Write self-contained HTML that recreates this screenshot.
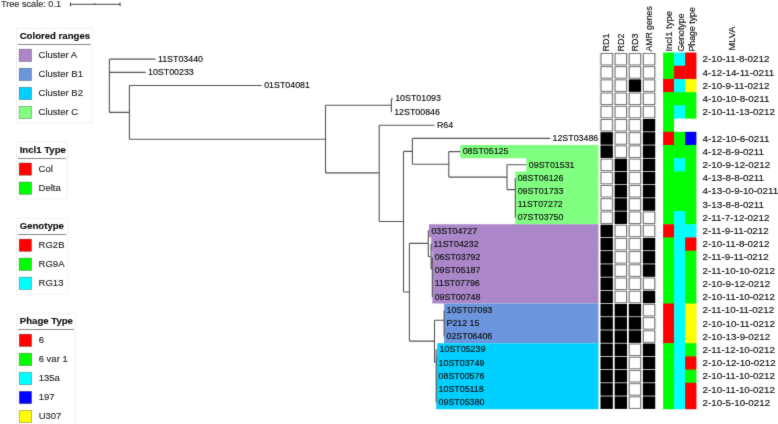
<!DOCTYPE html>
<html><head><meta charset="utf-8"><style>
html,body{margin:0;padding:0;background:#fff;width:778px;height:424px;overflow:hidden}
svg{display:block}
text{font-family:"Liberation Sans", sans-serif;fill:#111;stroke:#111;stroke-width:0.15px}
.lb{font-size:8.85px}
.ml{font-size:9.8px}
.hd{font-size:9.2px}
.ts{font-size:9.15px;fill:#3a3a3a}
.lt{font-size:9.6px;font-weight:bold}
.li{font-size:9.5px;fill:#333}
</style></head><body>
<svg width="778" height="424" viewBox="0 0 778 424">
<defs><filter id="sf" x="0" y="0" width="778" height="424" filterUnits="userSpaceOnUse" color-interpolation-filters="sRGB"><feConvolveMatrix order="3" kernelMatrix="1 2 1 2 28 2 1 2 1" divisor="40" edgeMode="duplicate"/></filter></defs>
<g filter="url(#sf)"><rect x="0" y="0" width="778" height="424" fill="#fff"/>
<path d="M598.40 145.00 L460.30 145.00 L460.30 158.22 L526.40 158.22 L526.40 171.43 L515.30 171.43 L515.30 184.64 L515.30 184.64 L515.30 197.84 L515.30 197.84 L515.30 211.06 L515.30 211.06 L515.30 224.27 L598.40 224.27Z" fill="#80ff80"/>
<path d="M598.40 224.27 L429.00 224.27 L429.00 237.47 L431.10 237.47 L431.10 250.69 L432.30 250.69 L432.30 263.89 L432.30 263.89 L432.30 277.11 L432.30 277.11 L432.30 290.32 L432.30 290.32 L432.30 303.52 L598.40 303.52Z" fill="#ab87c9"/>
<path d="M598.40 303.52 L444.10 303.52 L444.10 316.74 L444.10 316.74 L444.10 329.95 L444.10 329.95 L444.10 343.15 L598.40 343.15Z" fill="#6b95dc"/>
<path d="M598.40 343.15 L437.20 343.15 L437.20 356.37 L436.20 356.37 L436.20 369.58 L436.20 369.58 L436.20 382.78 L436.20 382.78 L436.20 396.00 L436.20 396.00 L436.20 409.21 L598.40 409.21Z" fill="#00cfff"/>
<path d="M109.40 59.14V112.40M109.40 59.14H155.50M109.40 72.35H145.60M109.40 112.40H129.40M129.40 85.56V139.30M129.40 85.56H261.80M129.40 139.30H325.50M325.50 105.30V172.90M325.50 105.30H391.40M391.40 98.77V111.98M391.40 98.77H392.80M391.40 111.98H391.80M325.50 172.90H379.20M379.20 125.19V221.50M379.20 125.19H434.50M379.20 221.50H403.50M403.50 151.40V292.00M403.50 151.40H412.40M412.40 138.40V164.30M412.40 138.40H550.10M412.40 164.30H448.80M448.80 151.61V177.10M448.80 151.61H460.30M448.80 177.10H507.00M507.00 164.82V189.60M507.00 164.82H526.40M507.00 189.60H515.30M515.30 178.03V217.66M403.50 292.00H409.40M409.40 243.40V341.10M409.40 243.40H428.30M428.30 230.87V256.50M428.30 230.87H429.00M428.30 256.50H431.10M431.10 244.08V268.90M431.10 268.90H432.30M432.30 257.29V296.92M409.40 341.10H434.50M434.50 320.20V362.30M434.50 320.20H444.10M444.10 310.13V336.55M434.50 362.30H436.20M436.20 349.76V402.60M436.20 349.76H437.20" stroke="#555555" stroke-width="1.1" fill="none"/>
<text transform="translate(157.90,61.84) scale(1,1)" class="lb">11ST03440</text>
<text transform="translate(148.00,75.05) scale(1,1)" class="lb">10ST00233</text>
<text transform="translate(264.20,88.26) scale(1,1)" class="lb">01ST04081</text>
<text transform="translate(395.20,101.47) scale(1,1)" class="lb">10ST01093</text>
<text transform="translate(394.20,114.68) scale(1,1)" class="lb">12ST00846</text>
<text transform="translate(436.90,127.89) scale(1,1)" class="lb">R64</text>
<text transform="translate(552.50,141.10) scale(1,1)" class="lb">12ST03486</text>
<text transform="translate(462.70,154.31) scale(1,1)" class="lb">08ST05125</text>
<text transform="translate(528.80,167.52) scale(1,1)" class="lb">09ST01531</text>
<text transform="translate(517.70,180.73) scale(1,1)" class="lb">08ST06126</text>
<text transform="translate(517.70,193.94) scale(1,1)" class="lb">09ST01733</text>
<text transform="translate(517.70,207.15) scale(1,1)" class="lb">11ST07272</text>
<text transform="translate(517.70,220.36) scale(1,1)" class="lb">07ST03750</text>
<text transform="translate(431.40,233.57) scale(1,1)" class="lb">03ST04727</text>
<text transform="translate(433.50,246.78) scale(1,1)" class="lb">11ST04232</text>
<text transform="translate(434.70,259.99) scale(1,1)" class="lb">06ST03792</text>
<text transform="translate(434.70,273.20) scale(1,1)" class="lb">09ST05187</text>
<text transform="translate(434.70,286.41) scale(1,1)" class="lb">11ST07796</text>
<text transform="translate(434.70,299.62) scale(1,1)" class="lb">09ST00748</text>
<text transform="translate(446.50,312.83) scale(1,1)" class="lb">10ST07093</text>
<text transform="translate(446.50,326.04) scale(1,1)" class="lb">P212 15</text>
<text transform="translate(446.50,339.25) scale(1,1)" class="lb">02ST06406</text>
<text transform="translate(439.60,352.46) scale(1,1)" class="lb">10ST05239</text>
<text transform="translate(438.60,365.67) scale(1,1)" class="lb">10ST03749</text>
<text transform="translate(438.60,378.88) scale(1,1)" class="lb">08ST00576</text>
<text transform="translate(438.60,392.09) scale(1,1)" class="lb">10ST05118</text>
<text transform="translate(438.60,405.30) scale(1,1)" class="lb">09ST05380</text>
<rect x="599.50" y="53.23" width="14.35" height="11.90" fill="#e0e0e0"/>
<rect x="613.63" y="53.23" width="14.35" height="11.90" fill="#e0e0e0"/>
<rect x="627.76" y="53.23" width="14.35" height="11.90" fill="#e0e0e0"/>
<rect x="641.89" y="53.23" width="14.35" height="11.90" fill="#e0e0e0"/>
<rect x="599.50" y="66.45" width="14.35" height="11.90" fill="#e0e0e0"/>
<rect x="613.63" y="66.45" width="14.35" height="11.90" fill="#e0e0e0"/>
<rect x="627.76" y="66.45" width="14.35" height="11.90" fill="#e0e0e0"/>
<rect x="641.89" y="66.45" width="14.35" height="11.90" fill="#e0e0e0"/>
<rect x="599.50" y="79.66" width="14.35" height="11.90" fill="#e0e0e0"/>
<rect x="613.63" y="79.66" width="14.35" height="11.90" fill="#e0e0e0"/>
<rect x="641.89" y="79.66" width="14.35" height="11.90" fill="#e0e0e0"/>
<rect x="599.50" y="92.86" width="14.35" height="11.90" fill="#e0e0e0"/>
<rect x="613.63" y="92.86" width="14.35" height="11.90" fill="#e0e0e0"/>
<rect x="627.76" y="92.86" width="14.35" height="11.90" fill="#e0e0e0"/>
<rect x="641.89" y="92.86" width="14.35" height="11.90" fill="#e0e0e0"/>
<rect x="599.50" y="106.08" width="14.35" height="11.90" fill="#e0e0e0"/>
<rect x="613.63" y="106.08" width="14.35" height="11.90" fill="#e0e0e0"/>
<rect x="627.76" y="106.08" width="14.35" height="11.90" fill="#e0e0e0"/>
<rect x="641.89" y="106.08" width="14.35" height="11.90" fill="#e0e0e0"/>
<rect x="599.50" y="119.29" width="14.35" height="11.90" fill="#e0e0e0"/>
<rect x="613.63" y="119.29" width="14.35" height="11.90" fill="#e0e0e0"/>
<rect x="627.76" y="119.29" width="14.35" height="11.90" fill="#e0e0e0"/>
<rect x="613.63" y="132.50" width="14.35" height="11.90" fill="#e0e0e0"/>
<rect x="627.76" y="132.50" width="14.35" height="11.90" fill="#e0e0e0"/>
<rect x="613.63" y="145.71" width="14.35" height="11.90" fill="#e0e0e0"/>
<rect x="627.76" y="145.71" width="14.35" height="11.90" fill="#e0e0e0"/>
<rect x="599.50" y="158.92" width="14.35" height="11.90" fill="#e0e0e0"/>
<rect x="627.76" y="158.92" width="14.35" height="11.90" fill="#e0e0e0"/>
<rect x="599.50" y="172.13" width="14.35" height="11.90" fill="#e0e0e0"/>
<rect x="627.76" y="172.13" width="14.35" height="11.90" fill="#e0e0e0"/>
<rect x="599.50" y="185.34" width="14.35" height="11.90" fill="#e0e0e0"/>
<rect x="627.76" y="185.34" width="14.35" height="11.90" fill="#e0e0e0"/>
<rect x="599.50" y="198.55" width="14.35" height="11.90" fill="#e0e0e0"/>
<rect x="627.76" y="198.55" width="14.35" height="11.90" fill="#e0e0e0"/>
<rect x="599.50" y="211.76" width="14.35" height="11.90" fill="#e0e0e0"/>
<rect x="627.76" y="211.76" width="14.35" height="11.90" fill="#e0e0e0"/>
<rect x="641.89" y="211.76" width="14.35" height="11.90" fill="#e0e0e0"/>
<rect x="613.63" y="224.97" width="14.35" height="11.90" fill="#e0e0e0"/>
<rect x="627.76" y="224.97" width="14.35" height="11.90" fill="#e0e0e0"/>
<rect x="641.89" y="224.97" width="14.35" height="11.90" fill="#e0e0e0"/>
<rect x="613.63" y="238.18" width="14.35" height="11.90" fill="#e0e0e0"/>
<rect x="627.76" y="238.18" width="14.35" height="11.90" fill="#e0e0e0"/>
<rect x="613.63" y="251.39" width="14.35" height="11.90" fill="#e0e0e0"/>
<rect x="627.76" y="251.39" width="14.35" height="11.90" fill="#e0e0e0"/>
<rect x="613.63" y="264.59" width="14.35" height="11.90" fill="#e0e0e0"/>
<rect x="627.76" y="264.59" width="14.35" height="11.90" fill="#e0e0e0"/>
<rect x="613.63" y="277.81" width="14.35" height="11.90" fill="#e0e0e0"/>
<rect x="627.76" y="277.81" width="14.35" height="11.90" fill="#e0e0e0"/>
<rect x="641.89" y="277.81" width="14.35" height="11.90" fill="#e0e0e0"/>
<rect x="613.63" y="291.02" width="14.35" height="11.90" fill="#e0e0e0"/>
<rect x="627.76" y="291.02" width="14.35" height="11.90" fill="#e0e0e0"/>
<rect x="641.89" y="304.22" width="14.35" height="11.90" fill="#e0e0e0"/>
<rect x="641.89" y="317.44" width="14.35" height="11.90" fill="#e0e0e0"/>
<rect x="641.89" y="330.65" width="14.35" height="11.90" fill="#e0e0e0"/>
<rect x="627.76" y="343.85" width="14.35" height="11.90" fill="#e0e0e0"/>
<rect x="627.76" y="357.06" width="14.35" height="11.90" fill="#e0e0e0"/>
<rect x="627.76" y="370.28" width="14.35" height="11.90" fill="#e0e0e0"/>
<rect x="627.76" y="383.48" width="14.35" height="11.90" fill="#e0e0e0"/>
<rect x="627.76" y="396.69" width="14.35" height="11.90" fill="#e0e0e0"/>
<rect x="601.00" y="53.43" width="11.35" height="11.50" fill="#fff" stroke="#767676" stroke-width="1.0"/>
<rect x="615.13" y="53.43" width="11.35" height="11.50" fill="#fff" stroke="#767676" stroke-width="1.0"/>
<rect x="629.26" y="53.43" width="11.35" height="11.50" fill="#fff" stroke="#767676" stroke-width="1.0"/>
<rect x="643.39" y="53.43" width="11.35" height="11.50" fill="#fff" stroke="#767676" stroke-width="1.0"/>
<rect x="601.00" y="66.65" width="11.35" height="11.50" fill="#fff" stroke="#767676" stroke-width="1.0"/>
<rect x="615.13" y="66.65" width="11.35" height="11.50" fill="#fff" stroke="#767676" stroke-width="1.0"/>
<rect x="629.26" y="66.65" width="11.35" height="11.50" fill="#fff" stroke="#767676" stroke-width="1.0"/>
<rect x="643.39" y="66.65" width="11.35" height="11.50" fill="#fff" stroke="#767676" stroke-width="1.0"/>
<rect x="601.00" y="79.86" width="11.35" height="11.50" fill="#fff" stroke="#767676" stroke-width="1.0"/>
<rect x="615.13" y="79.86" width="11.35" height="11.50" fill="#fff" stroke="#767676" stroke-width="1.0"/>
<rect x="628.76" y="79.36" width="12.35" height="12.50" fill="#000"/>
<rect x="643.39" y="79.86" width="11.35" height="11.50" fill="#fff" stroke="#767676" stroke-width="1.0"/>
<rect x="601.00" y="93.06" width="11.35" height="11.50" fill="#fff" stroke="#767676" stroke-width="1.0"/>
<rect x="615.13" y="93.06" width="11.35" height="11.50" fill="#fff" stroke="#767676" stroke-width="1.0"/>
<rect x="629.26" y="93.06" width="11.35" height="11.50" fill="#fff" stroke="#767676" stroke-width="1.0"/>
<rect x="643.39" y="93.06" width="11.35" height="11.50" fill="#fff" stroke="#767676" stroke-width="1.0"/>
<rect x="601.00" y="106.28" width="11.35" height="11.50" fill="#fff" stroke="#767676" stroke-width="1.0"/>
<rect x="615.13" y="106.28" width="11.35" height="11.50" fill="#fff" stroke="#767676" stroke-width="1.0"/>
<rect x="629.26" y="106.28" width="11.35" height="11.50" fill="#fff" stroke="#767676" stroke-width="1.0"/>
<rect x="643.39" y="106.28" width="11.35" height="11.50" fill="#fff" stroke="#767676" stroke-width="1.0"/>
<rect x="601.00" y="119.49" width="11.35" height="11.50" fill="#fff" stroke="#767676" stroke-width="1.0"/>
<rect x="615.13" y="119.49" width="11.35" height="11.50" fill="#fff" stroke="#767676" stroke-width="1.0"/>
<rect x="629.26" y="119.49" width="11.35" height="11.50" fill="#fff" stroke="#767676" stroke-width="1.0"/>
<rect x="642.89" y="118.99" width="12.35" height="12.50" fill="#000"/>
<rect x="600.50" y="132.20" width="12.35" height="12.50" fill="#000"/>
<rect x="615.13" y="132.70" width="11.35" height="11.50" fill="#fff" stroke="#767676" stroke-width="1.0"/>
<rect x="629.26" y="132.70" width="11.35" height="11.50" fill="#fff" stroke="#767676" stroke-width="1.0"/>
<rect x="642.89" y="132.20" width="12.35" height="12.50" fill="#000"/>
<rect x="600.50" y="145.41" width="12.35" height="12.50" fill="#000"/>
<rect x="615.13" y="145.91" width="11.35" height="11.50" fill="#fff" stroke="#767676" stroke-width="1.0"/>
<rect x="629.26" y="145.91" width="11.35" height="11.50" fill="#fff" stroke="#767676" stroke-width="1.0"/>
<rect x="642.89" y="145.41" width="12.35" height="12.50" fill="#000"/>
<rect x="601.00" y="159.12" width="11.35" height="11.50" fill="#fff" stroke="#767676" stroke-width="1.0"/>
<rect x="614.63" y="158.62" width="12.35" height="12.50" fill="#000"/>
<rect x="629.26" y="159.12" width="11.35" height="11.50" fill="#fff" stroke="#767676" stroke-width="1.0"/>
<rect x="642.89" y="158.62" width="12.35" height="12.50" fill="#000"/>
<rect x="601.00" y="172.33" width="11.35" height="11.50" fill="#fff" stroke="#767676" stroke-width="1.0"/>
<rect x="614.63" y="171.83" width="12.35" height="12.50" fill="#000"/>
<rect x="629.26" y="172.33" width="11.35" height="11.50" fill="#fff" stroke="#767676" stroke-width="1.0"/>
<rect x="642.89" y="171.83" width="12.35" height="12.50" fill="#000"/>
<rect x="601.00" y="185.54" width="11.35" height="11.50" fill="#fff" stroke="#767676" stroke-width="1.0"/>
<rect x="614.63" y="185.04" width="12.35" height="12.50" fill="#000"/>
<rect x="629.26" y="185.54" width="11.35" height="11.50" fill="#fff" stroke="#767676" stroke-width="1.0"/>
<rect x="642.89" y="185.04" width="12.35" height="12.50" fill="#000"/>
<rect x="601.00" y="198.75" width="11.35" height="11.50" fill="#fff" stroke="#767676" stroke-width="1.0"/>
<rect x="614.63" y="198.25" width="12.35" height="12.50" fill="#000"/>
<rect x="629.26" y="198.75" width="11.35" height="11.50" fill="#fff" stroke="#767676" stroke-width="1.0"/>
<rect x="642.89" y="198.25" width="12.35" height="12.50" fill="#000"/>
<rect x="601.00" y="211.96" width="11.35" height="11.50" fill="#fff" stroke="#767676" stroke-width="1.0"/>
<rect x="614.63" y="211.46" width="12.35" height="12.50" fill="#000"/>
<rect x="629.26" y="211.96" width="11.35" height="11.50" fill="#fff" stroke="#767676" stroke-width="1.0"/>
<rect x="643.39" y="211.96" width="11.35" height="11.50" fill="#fff" stroke="#767676" stroke-width="1.0"/>
<rect x="600.50" y="224.67" width="12.35" height="12.50" fill="#000"/>
<rect x="615.13" y="225.17" width="11.35" height="11.50" fill="#fff" stroke="#767676" stroke-width="1.0"/>
<rect x="629.26" y="225.17" width="11.35" height="11.50" fill="#fff" stroke="#767676" stroke-width="1.0"/>
<rect x="643.39" y="225.17" width="11.35" height="11.50" fill="#fff" stroke="#767676" stroke-width="1.0"/>
<rect x="600.50" y="237.88" width="12.35" height="12.50" fill="#000"/>
<rect x="615.13" y="238.38" width="11.35" height="11.50" fill="#fff" stroke="#767676" stroke-width="1.0"/>
<rect x="629.26" y="238.38" width="11.35" height="11.50" fill="#fff" stroke="#767676" stroke-width="1.0"/>
<rect x="642.89" y="237.88" width="12.35" height="12.50" fill="#000"/>
<rect x="600.50" y="251.09" width="12.35" height="12.50" fill="#000"/>
<rect x="615.13" y="251.59" width="11.35" height="11.50" fill="#fff" stroke="#767676" stroke-width="1.0"/>
<rect x="629.26" y="251.59" width="11.35" height="11.50" fill="#fff" stroke="#767676" stroke-width="1.0"/>
<rect x="642.89" y="251.09" width="12.35" height="12.50" fill="#000"/>
<rect x="600.50" y="264.29" width="12.35" height="12.50" fill="#000"/>
<rect x="615.13" y="264.79" width="11.35" height="11.50" fill="#fff" stroke="#767676" stroke-width="1.0"/>
<rect x="629.26" y="264.79" width="11.35" height="11.50" fill="#fff" stroke="#767676" stroke-width="1.0"/>
<rect x="642.89" y="264.29" width="12.35" height="12.50" fill="#000"/>
<rect x="600.50" y="277.50" width="12.35" height="12.50" fill="#000"/>
<rect x="615.13" y="278.00" width="11.35" height="11.50" fill="#fff" stroke="#767676" stroke-width="1.0"/>
<rect x="629.26" y="278.00" width="11.35" height="11.50" fill="#fff" stroke="#767676" stroke-width="1.0"/>
<rect x="643.39" y="278.00" width="11.35" height="11.50" fill="#fff" stroke="#767676" stroke-width="1.0"/>
<rect x="600.50" y="290.72" width="12.35" height="12.50" fill="#000"/>
<rect x="615.13" y="291.22" width="11.35" height="11.50" fill="#fff" stroke="#767676" stroke-width="1.0"/>
<rect x="629.26" y="291.22" width="11.35" height="11.50" fill="#fff" stroke="#767676" stroke-width="1.0"/>
<rect x="642.89" y="290.72" width="12.35" height="12.50" fill="#000"/>
<rect x="600.50" y="303.92" width="12.35" height="12.50" fill="#000"/>
<rect x="614.63" y="303.92" width="12.35" height="12.50" fill="#000"/>
<rect x="628.76" y="303.92" width="12.35" height="12.50" fill="#000"/>
<rect x="643.39" y="304.42" width="11.35" height="11.50" fill="#fff" stroke="#767676" stroke-width="1.0"/>
<rect x="600.50" y="317.13" width="12.35" height="12.50" fill="#000"/>
<rect x="614.63" y="317.13" width="12.35" height="12.50" fill="#000"/>
<rect x="628.76" y="317.13" width="12.35" height="12.50" fill="#000"/>
<rect x="643.39" y="317.63" width="11.35" height="11.50" fill="#fff" stroke="#767676" stroke-width="1.0"/>
<rect x="600.50" y="330.35" width="12.35" height="12.50" fill="#000"/>
<rect x="614.63" y="330.35" width="12.35" height="12.50" fill="#000"/>
<rect x="628.76" y="330.35" width="12.35" height="12.50" fill="#000"/>
<rect x="643.39" y="330.85" width="11.35" height="11.50" fill="#fff" stroke="#767676" stroke-width="1.0"/>
<rect x="600.50" y="343.55" width="12.35" height="12.50" fill="#000"/>
<rect x="614.63" y="343.55" width="12.35" height="12.50" fill="#000"/>
<rect x="629.26" y="344.05" width="11.35" height="11.50" fill="#fff" stroke="#767676" stroke-width="1.0"/>
<rect x="642.89" y="343.55" width="12.35" height="12.50" fill="#000"/>
<rect x="600.50" y="356.76" width="12.35" height="12.50" fill="#000"/>
<rect x="614.63" y="356.76" width="12.35" height="12.50" fill="#000"/>
<rect x="629.26" y="357.26" width="11.35" height="11.50" fill="#fff" stroke="#767676" stroke-width="1.0"/>
<rect x="642.89" y="356.76" width="12.35" height="12.50" fill="#000"/>
<rect x="600.50" y="369.98" width="12.35" height="12.50" fill="#000"/>
<rect x="614.63" y="369.98" width="12.35" height="12.50" fill="#000"/>
<rect x="629.26" y="370.48" width="11.35" height="11.50" fill="#fff" stroke="#767676" stroke-width="1.0"/>
<rect x="642.89" y="369.98" width="12.35" height="12.50" fill="#000"/>
<rect x="600.50" y="383.18" width="12.35" height="12.50" fill="#000"/>
<rect x="614.63" y="383.18" width="12.35" height="12.50" fill="#000"/>
<rect x="629.26" y="383.68" width="11.35" height="11.50" fill="#fff" stroke="#767676" stroke-width="1.0"/>
<rect x="642.89" y="383.18" width="12.35" height="12.50" fill="#000"/>
<rect x="600.50" y="396.39" width="12.35" height="12.50" fill="#000"/>
<rect x="614.63" y="396.39" width="12.35" height="12.50" fill="#000"/>
<rect x="629.26" y="396.89" width="11.35" height="11.50" fill="#fff" stroke="#767676" stroke-width="1.0"/>
<rect x="642.89" y="396.39" width="12.35" height="12.50" fill="#000"/>
<rect x="663.10" y="52.53" width="11.40" height="13.66" fill="#00ff00"/>
<rect x="674.10" y="52.53" width="11.40" height="13.66" fill="#00ffff"/>
<rect x="685.10" y="52.53" width="11.30" height="13.66" fill="#ff0000"/>
<rect x="663.10" y="65.75" width="11.40" height="13.66" fill="#00ff00"/>
<rect x="674.10" y="65.75" width="11.40" height="13.66" fill="#ff0000"/>
<rect x="685.10" y="65.75" width="11.30" height="13.66" fill="#ff0000"/>
<rect x="663.10" y="78.95" width="11.40" height="13.66" fill="#ff0000"/>
<rect x="674.10" y="78.95" width="11.40" height="13.66" fill="#00ffff"/>
<rect x="685.10" y="78.95" width="11.30" height="13.66" fill="#ffff00"/>
<rect x="663.10" y="92.16" width="11.40" height="13.66" fill="#00ff00"/>
<rect x="674.10" y="92.16" width="11.40" height="13.66" fill="#00ff00"/>
<rect x="685.10" y="92.16" width="11.30" height="13.66" fill="#00ff00"/>
<rect x="663.10" y="105.38" width="11.40" height="13.66" fill="#00ff00"/>
<rect x="674.10" y="105.38" width="11.40" height="13.66" fill="#00ffff"/>
<rect x="685.10" y="105.38" width="11.30" height="13.66" fill="#00ff00"/>
<rect x="663.10" y="118.59" width="11.40" height="13.66" fill="#00ff00"/>
<rect x="674.10" y="118.59" width="11.40" height="13.66" fill="#fff"/>
<rect x="685.10" y="118.59" width="11.30" height="13.66" fill="#fff"/>
<rect x="663.10" y="131.80" width="11.40" height="13.66" fill="#ff0000"/>
<rect x="674.10" y="131.80" width="11.40" height="13.66" fill="#00ff00"/>
<rect x="685.10" y="131.80" width="11.30" height="13.66" fill="#0000ff"/>
<rect x="663.10" y="145.00" width="11.40" height="13.66" fill="#00ff00"/>
<rect x="674.10" y="145.00" width="11.40" height="13.66" fill="#00ff00"/>
<rect x="685.10" y="145.00" width="11.30" height="13.66" fill="#00ff00"/>
<rect x="663.10" y="158.22" width="11.40" height="13.66" fill="#00ff00"/>
<rect x="674.10" y="158.22" width="11.40" height="13.66" fill="#00ffff"/>
<rect x="685.10" y="158.22" width="11.30" height="13.66" fill="#00ff00"/>
<rect x="663.10" y="171.43" width="11.40" height="13.66" fill="#00ff00"/>
<rect x="674.10" y="171.43" width="11.40" height="13.66" fill="#00ff00"/>
<rect x="685.10" y="171.43" width="11.30" height="13.66" fill="#00ff00"/>
<rect x="663.10" y="184.64" width="11.40" height="13.66" fill="#00ff00"/>
<rect x="674.10" y="184.64" width="11.40" height="13.66" fill="#00ff00"/>
<rect x="685.10" y="184.64" width="11.30" height="13.66" fill="#00ff00"/>
<rect x="663.10" y="197.84" width="11.40" height="13.66" fill="#00ff00"/>
<rect x="674.10" y="197.84" width="11.40" height="13.66" fill="#00ff00"/>
<rect x="685.10" y="197.84" width="11.30" height="13.66" fill="#00ff00"/>
<rect x="663.10" y="211.06" width="11.40" height="13.66" fill="#00ff00"/>
<rect x="674.10" y="211.06" width="11.40" height="13.66" fill="#00ffff"/>
<rect x="685.10" y="211.06" width="11.30" height="13.66" fill="#00ff00"/>
<rect x="663.10" y="224.27" width="11.40" height="13.66" fill="#ff0000"/>
<rect x="674.10" y="224.27" width="11.40" height="13.66" fill="#00ffff"/>
<rect x="685.10" y="224.27" width="11.30" height="13.66" fill="#00ffff"/>
<rect x="663.10" y="237.47" width="11.40" height="13.66" fill="#00ff00"/>
<rect x="674.10" y="237.47" width="11.40" height="13.66" fill="#00ffff"/>
<rect x="685.10" y="237.47" width="11.30" height="13.66" fill="#ff0000"/>
<rect x="663.10" y="250.69" width="11.40" height="13.66" fill="#00ff00"/>
<rect x="674.10" y="250.69" width="11.40" height="13.66" fill="#00ffff"/>
<rect x="685.10" y="250.69" width="11.30" height="13.66" fill="#00ff00"/>
<rect x="663.10" y="263.89" width="11.40" height="13.66" fill="#00ff00"/>
<rect x="674.10" y="263.89" width="11.40" height="13.66" fill="#00ffff"/>
<rect x="685.10" y="263.89" width="11.30" height="13.66" fill="#00ff00"/>
<rect x="663.10" y="277.11" width="11.40" height="13.66" fill="#00ff00"/>
<rect x="674.10" y="277.11" width="11.40" height="13.66" fill="#00ffff"/>
<rect x="685.10" y="277.11" width="11.30" height="13.66" fill="#00ff00"/>
<rect x="663.10" y="290.32" width="11.40" height="13.66" fill="#00ff00"/>
<rect x="674.10" y="290.32" width="11.40" height="13.66" fill="#00ffff"/>
<rect x="685.10" y="290.32" width="11.30" height="13.66" fill="#00ff00"/>
<rect x="663.10" y="303.52" width="11.40" height="13.66" fill="#ff0000"/>
<rect x="674.10" y="303.52" width="11.40" height="13.66" fill="#00ffff"/>
<rect x="685.10" y="303.52" width="11.30" height="13.66" fill="#ffff00"/>
<rect x="663.10" y="316.74" width="11.40" height="13.66" fill="#ff0000"/>
<rect x="674.10" y="316.74" width="11.40" height="13.66" fill="#00ffff"/>
<rect x="685.10" y="316.74" width="11.30" height="13.66" fill="#ffff00"/>
<rect x="663.10" y="329.95" width="11.40" height="13.66" fill="#ff0000"/>
<rect x="674.10" y="329.95" width="11.40" height="13.66" fill="#00ffff"/>
<rect x="685.10" y="329.95" width="11.30" height="13.66" fill="#ffff00"/>
<rect x="663.10" y="343.15" width="11.40" height="13.66" fill="#00ff00"/>
<rect x="674.10" y="343.15" width="11.40" height="13.66" fill="#00ffff"/>
<rect x="685.10" y="343.15" width="11.30" height="13.66" fill="#00ff00"/>
<rect x="663.10" y="356.37" width="11.40" height="13.66" fill="#00ff00"/>
<rect x="674.10" y="356.37" width="11.40" height="13.66" fill="#00ffff"/>
<rect x="685.10" y="356.37" width="11.30" height="13.66" fill="#ff0000"/>
<rect x="663.10" y="369.58" width="11.40" height="13.66" fill="#00ff00"/>
<rect x="674.10" y="369.58" width="11.40" height="13.66" fill="#00ffff"/>
<rect x="685.10" y="369.58" width="11.30" height="13.66" fill="#00ff00"/>
<rect x="663.10" y="382.78" width="11.40" height="13.66" fill="#00ff00"/>
<rect x="674.10" y="382.78" width="11.40" height="13.66" fill="#00ffff"/>
<rect x="685.10" y="382.78" width="11.30" height="13.66" fill="#ff0000"/>
<rect x="663.10" y="396.00" width="11.40" height="13.21" fill="#00ff00"/>
<rect x="674.10" y="396.00" width="11.40" height="13.21" fill="#00ffff"/>
<rect x="685.10" y="396.00" width="11.30" height="13.21" fill="#ff0000"/>
<text transform="translate(702.6,62.34) scale(1,1)" class="ml">2-10-11-8-0212</text>
<text transform="translate(702.6,75.55) scale(1,1)" class="ml">4-12-14-11-0211</text>
<text transform="translate(702.6,88.76) scale(1,1)" class="ml">2-10-9-11-0212</text>
<text transform="translate(702.6,101.97) scale(1,1)" class="ml">4-10-10-8-0211</text>
<text transform="translate(702.6,115.18) scale(1,1)" class="ml">2-10-11-13-0212</text>
<text transform="translate(702.6,141.60) scale(1,1)" class="ml">4-12-10-6-0211</text>
<text transform="translate(702.6,154.81) scale(1,1)" class="ml">4-12-8-9-0211</text>
<text transform="translate(702.6,168.02) scale(1,1)" class="ml">2-10-9-12-0212</text>
<text transform="translate(702.6,181.23) scale(1,1)" class="ml">4-13-8-8-0211</text>
<text transform="translate(702.6,194.44) scale(1,1)" class="ml">4-13-0-9-10-0211</text>
<text transform="translate(702.6,207.65) scale(1,1)" class="ml">3-13-8-8-0211</text>
<text transform="translate(702.6,220.86) scale(1,1)" class="ml">2-11-7-12-0212</text>
<text transform="translate(702.6,234.07) scale(1,1)" class="ml">2-11-9-11-0212</text>
<text transform="translate(702.6,247.28) scale(1,1)" class="ml">2-10-11-8-0212</text>
<text transform="translate(702.6,260.49) scale(1,1)" class="ml">2-11-9-11-0212</text>
<text transform="translate(702.6,273.70) scale(1,1)" class="ml">2-11-10-10-0212</text>
<text transform="translate(702.6,286.91) scale(1,1)" class="ml">2-10-9-12-0212</text>
<text transform="translate(702.6,300.12) scale(1,1)" class="ml">2-10-11-10-0212</text>
<text transform="translate(702.6,313.33) scale(1,1)" class="ml">2-11-10-11-0212</text>
<text transform="translate(702.6,326.54) scale(1,1)" class="ml">2-10-10-11-0212</text>
<text transform="translate(702.6,339.75) scale(1,1)" class="ml">2-10-13-9-0212</text>
<text transform="translate(702.6,352.96) scale(1,1)" class="ml">2-11-12-10-0212</text>
<text transform="translate(702.6,366.17) scale(1,1)" class="ml">2-10-12-10-0212</text>
<text transform="translate(702.6,379.38) scale(1,1)" class="ml">2-10-11-10-0212</text>
<text transform="translate(702.6,392.59) scale(1,1)" class="ml">2-10-11-10-0212</text>
<text transform="translate(702.6,405.80) scale(1,1)" class="ml">2-10-5-10-0212</text>
<text transform="translate(609.20,51.6) rotate(-90)" class="hd" style="font-size:9.0px">RD1</text>
<text transform="translate(623.60,51.6) rotate(-90)" class="hd" style="font-size:9.0px">RD2</text>
<text transform="translate(638.00,51.6) rotate(-90)" class="hd" style="font-size:9.0px">RD3</text>
<text transform="translate(652.40,51.6) rotate(-90)" class="hd" style="font-size:8.7px">AMR genes</text>
<text transform="translate(672.00,51.6) rotate(-90)" class="hd" style="font-size:9.5px">Incl1 type</text>
<text transform="translate(683.90,51.6) rotate(-90)" class="hd" style="font-size:8.8px">Genotype</text>
<text transform="translate(694.50,51.6) rotate(-90)" class="hd" style="font-size:8.8px">Phage type</text>
<text transform="translate(735.10,50.4) rotate(-90)" class="hd" style="font-size:9.2px">MLVA</text>
<text x="1" y="7" class="ts">Tree scale: 0.1</text>
<path d="M70 4.3H120.5M70.5 2.5V6.2M120 2.5V6.2M95.2 3.3V4.3" stroke="#444" stroke-width="1" fill="none"/>
<rect x="16.4" y="28.3" width="75.8" height="94.8" fill="#fff" stroke="#eee" stroke-width="0.8"/>
<text x="19.7" y="39.1" class="lt">Colored ranges</text>
<path d="M18.0 44.5H90.6" stroke="#8a8a8a" stroke-width="1"/>
<rect x="19.25" y="49.25" width="12.2" height="12.2" fill="#ab87c9" stroke="rgba(0,0,0,0.3)" stroke-width="0.9"/>
<text x="38.599999999999994" y="57.90" class="li">Cluster A</text>
<rect x="19.25" y="68.30" width="12.2" height="12.2" fill="#6b95dc" stroke="rgba(0,0,0,0.3)" stroke-width="0.9"/>
<text x="38.599999999999994" y="76.95" class="li">Cluster B1</text>
<rect x="19.25" y="87.35" width="12.2" height="12.2" fill="#00cfff" stroke="rgba(0,0,0,0.3)" stroke-width="0.9"/>
<text x="38.599999999999994" y="96.00" class="li">Cluster B2</text>
<rect x="19.25" y="106.40" width="12.2" height="12.2" fill="#80ff80" stroke="rgba(0,0,0,0.3)" stroke-width="0.9"/>
<text x="38.599999999999994" y="115.05" class="li">Cluster C</text>
<rect x="16.4" y="142.1" width="50.9" height="57.0" fill="#fff" stroke="#eee" stroke-width="0.8"/>
<text x="19.7" y="152.9" class="lt">Incl1 Type</text>
<path d="M18.0 158.5H65.7" stroke="#8a8a8a" stroke-width="1"/>
<rect x="19.25" y="163.05" width="12.2" height="12.2" fill="#ff0000" stroke="rgba(0,0,0,0.3)" stroke-width="0.9"/>
<text x="38.599999999999994" y="171.70" class="li">Col</text>
<rect x="19.25" y="182.10" width="12.2" height="12.2" fill="#00ff00" stroke="rgba(0,0,0,0.3)" stroke-width="0.9"/>
<text x="38.599999999999994" y="190.75" class="li">Delta</text>
<rect x="16.4" y="218.2" width="51.3" height="76.0" fill="#fff" stroke="#eee" stroke-width="0.8"/>
<text x="19.7" y="229.0" class="lt">Genotype</text>
<path d="M18.0 234.5H66.1" stroke="#8a8a8a" stroke-width="1"/>
<rect x="19.25" y="239.15" width="12.2" height="12.2" fill="#ff0000" stroke="rgba(0,0,0,0.3)" stroke-width="0.9"/>
<text x="38.599999999999994" y="247.80" class="li">RG2B</text>
<rect x="19.25" y="258.20" width="12.2" height="12.2" fill="#00ff00" stroke="rgba(0,0,0,0.3)" stroke-width="0.9"/>
<text x="38.599999999999994" y="266.85" class="li">RG9A</text>
<rect x="19.25" y="277.25" width="12.2" height="12.2" fill="#00ffff" stroke="rgba(0,0,0,0.3)" stroke-width="0.9"/>
<text x="38.599999999999994" y="285.90" class="li">RG13</text>
<rect x="16.5" y="313.3" width="59.0" height="115" fill="#fff" stroke="#eee" stroke-width="0.8"/>
<text x="19.8" y="324.1" class="lt">Phage Type</text>
<path d="M18.1 329.5H73.9" stroke="#8a8a8a" stroke-width="1"/>
<rect x="19.35" y="334.25" width="12.2" height="12.2" fill="#ff0000" stroke="rgba(0,0,0,0.3)" stroke-width="0.9"/>
<text x="38.7" y="342.90" class="li">6</text>
<rect x="19.35" y="353.30" width="12.2" height="12.2" fill="#00ff00" stroke="rgba(0,0,0,0.3)" stroke-width="0.9"/>
<text x="38.7" y="361.95" class="li">6 var 1</text>
<rect x="19.35" y="372.35" width="12.2" height="12.2" fill="#00ffff" stroke="rgba(0,0,0,0.3)" stroke-width="0.9"/>
<text x="38.7" y="381.00" class="li">135a</text>
<rect x="19.35" y="391.40" width="12.2" height="12.2" fill="#0000ff" stroke="rgba(0,0,0,0.3)" stroke-width="0.9"/>
<text x="38.7" y="400.05" class="li">197</text>
<rect x="19.35" y="410.45" width="12.2" height="12.2" fill="#ffff00" stroke="rgba(0,0,0,0.3)" stroke-width="0.9"/>
<text x="38.7" y="419.10" class="li">U307</text>
</g>
</svg>
</body></html>
